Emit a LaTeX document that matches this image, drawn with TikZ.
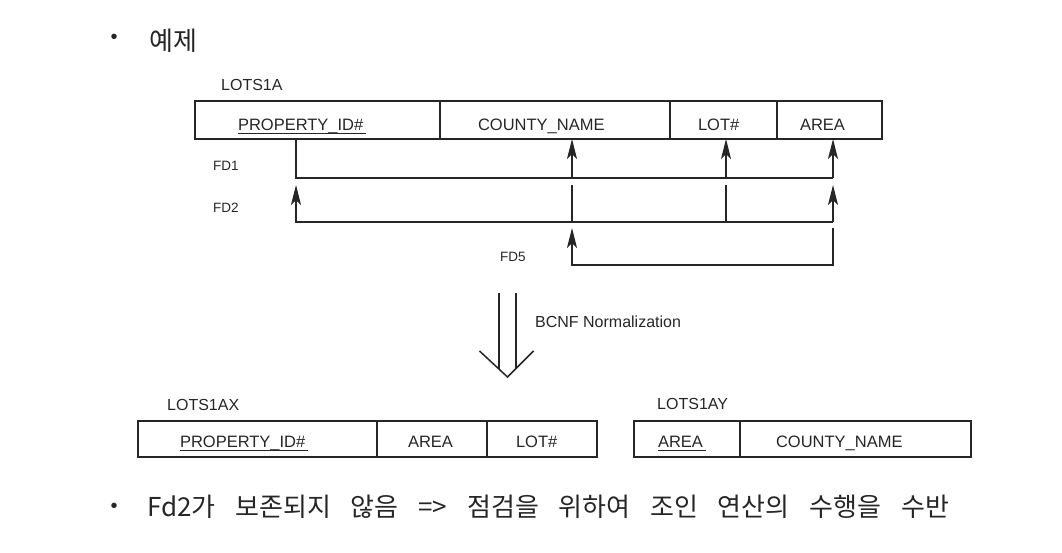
\documentclass[tikz,border=0pt]{standalone}
\usepackage{fontspec}
\usepackage{xcolor}
\setmainfont{Liberation Sans}
\newfontfamily\kr[WordSpace=3.4]{Noto Sans CJK KR}
\usetikzlibrary{positioning,arrows.meta}

\definecolor{ink}{HTML}{262626}
% key attribute: underline a little below the baseline
\newcommand{\pkey}[1]{\setbox0\hbox{#1}\rlap{\rule[-3.5pt]{\dimexpr\wd0+3pt\relax}{1pt}}\box0}

\begin{document}
\begin{tikzpicture}[x=1pt, y=-1pt,
    every node/.style={text=ink},
    cell/.style={draw=ink, line width=1.1pt, text width=#1, minimum height=38pt,
      text height=20pt, text depth=0pt,
      inner xsep=0pt, inner ysep=0pt, outer sep=0pt, align=left,
      font=\fontsize{16.5}{18}\selectfont},
    lowcell/.style={cell=#1, minimum height=36pt, text height=16pt},
    title/.style={font=\fontsize{16}{18}\selectfont, inner sep=0pt},
    fdlabel/.style={font=\fontsize{13.5}{15}\selectfont, inner sep=0pt},
    fdline/.style={draw=ink, line width=1.1pt},
    fd/.style={fdline, -{Stealth[length=20pt, width=10pt, inset=5pt]}},
    bigarrow/.style={draw=ink, line width=1.5pt},
    krtext/.style={font=\kr\fontsize{26}{30}\selectfont, inner sep=0pt},
  ]
  \useasboundingbox (0,0) rectangle (1062,552);

  % bullet lines
  \node[font=\fontsize{20}{22}\selectfont, inner sep=0pt] (b1) at (114,39) {•};
  \node[krtext, anchor=west] (ex) at (149,41) {예제};

  % LOTS1A
  \node[title, anchor=west] (lotsA) at (221,85) {LOTS1A};
  \node[cell=245pt, anchor=west] (pidA) at (195,120) {\hspace*{43pt}\pkey{PROPERTY\_ID\#}};
  \node[cell=230pt, right=0pt of pidA] (cnA) {\hspace*{38pt}COUNTY\_NAME};
  \node[cell=107pt, right=0pt of cnA] (lotA) {\hspace*{28pt}LOT\#};
  \node[cell=105pt, right=0pt of lotA] (areaA) {\hspace*{23pt}AREA};

  \coordinate (xpid) at (296,0);
  \coordinate (xcn) at (572,0);
  \coordinate (xlot) at (726,0);
  \coordinate (xarea) at (833,0);
  \coordinate (fdA) at (0,178);
  \coordinate (fdBtop) at (0,185);
  \coordinate (fdB) at (0,222);
  \coordinate (fdCtop) at (0,228);
  \coordinate (fdC) at (0,265);

  % FD1
  \node[fdlabel, anchor=west] (fd1) at (213,166) {FD1};
  \draw[fdline] (pidA.south -| xpid) |- (xarea |- fdA);
  \foreach \c/\k in {cnA/xcn, lotA/xlot, areaA/xarea}
    \draw[fd] (\k |- fdA) -- (\c.south -| \k);

  % FD2
  \node[fdlabel, anchor=west] (fd2) at (213,208) {FD2};
  \draw[fdline] (xcn |- fdBtop) -- (xcn |- fdB);
  \draw[fdline] (xlot |- fdBtop) -- (xlot |- fdB);
  \draw[fd] (xarea |- fdB) -- (xarea |- fdBtop);
  \draw[fd] (xarea |- fdB) -| (xpid |- fdBtop);

  % FD5
  \node[fdlabel, anchor=west] (fd5) at (500,257) {FD5};
  \draw[fd] (xarea |- fdCtop) |- (xcn |- fdC) -- (xcn |- fdCtop);

  % normalization arrow
  \coordinate (nf) at (507.5,293);
  \draw[bigarrow] ([xshift=-8.5pt]nf) -- ++(0,76);
  \draw[bigarrow] ([xshift=8.5pt]nf) -- ++(0,75);
  \draw[bigarrow] ([shift={(-28,58)}]nf) -- ([shift={(0,84)}]nf) -- ([shift={(26,58)}]nf);
  \node[title, anchor=west] (bcnf) at (535,322) {BCNF Normalization};

  % LOTS1AX
  \node[title, anchor=west] (lotsX) at (167,405) {LOTS1AX};
  \node[lowcell=239pt, anchor=west] (pidX) at (138,439) {\hspace*{42pt}\pkey{PROPERTY\_ID\#}};
  \node[lowcell=110pt, right=0pt of pidX] (areaX) {\hspace*{31pt}AREA};
  \node[lowcell=110pt, right=0pt of areaX] (lotX) {\hspace*{29pt}LOT\#};

  % LOTS1AY
  \node[title, anchor=west] (lotsY) at (657,404) {LOTS1AY};
  \node[lowcell=106pt, anchor=west] (areaY) at (634,439) {\hspace*{24pt}\pkey{AREA}};
  \node[lowcell=231pt, right=0pt of areaY] (cnY) {\hspace*{36pt}COUNTY\_NAME};

  \node[font=\fontsize{20}{22}\selectfont, inner sep=0pt] (b2) at (114,508) {•};
  \node[krtext, anchor=west] (note) at (147,507) {Fd2가 보존되지 않음 => 점검을 위하여 조인 연산의 수행을 수반};
\end{tikzpicture}
\end{document}
